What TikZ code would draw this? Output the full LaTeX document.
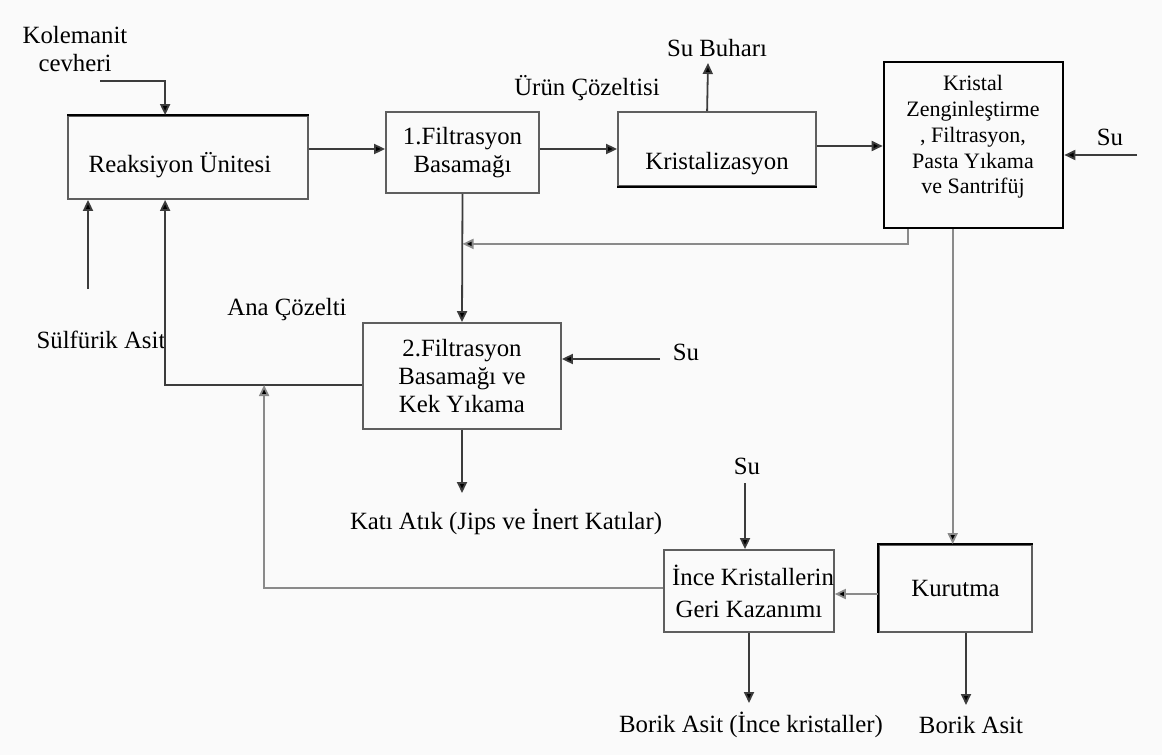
\documentclass[tikz,border=0pt]{standalone}
\usepackage{fontspec}
\setmainfont{Liberation Serif}
\usetikzlibrary{arrows.meta,calc}
\definecolor{bgcol}{HTML}{FAFAFA}
\definecolor{boxgray}{HTML}{5E5E5E}
\definecolor{linegray}{HTML}{3C3C3C}
\definecolor{lightline}{HTML}{8A8A8A}
\begin{document}
\begin{tikzpicture}[x=0.5pt,y=-0.5pt,
  box/.style={draw=boxgray, line width=0.9pt, inner sep=0pt, align=center,
    font=\fontsize{12.4}{14}\selectfont},
  flow/.style={draw=linegray, line width=0.9pt,
    -{Triangle[length=5.5pt,width=5pt,fill=black]}},
  txt/.style={inner sep=0pt, align=center, font=\fontsize{12.4}{14}\selectfont},
  edge/.style={black, line width=1.2pt},
]
\fill[bgcol] (0,0) rectangle (1162,755);
\useasboundingbox (0,0) rectangle (1162,755);

% process units
\node[box, minimum width=120pt, minimum height=41.5pt] (react) at (188,157.5) {};
\draw[edge] (react.north west) -- (react.north east);
\node[txt] (reacttxt) at (180,165) {Reaksiyon Ünitesi};
\node[box, minimum width=76.5pt, minimum height=40.5pt] (f1) at (462.5,152.5)
  {1.Filtrasyon\\Basamağı};
\node[box, minimum width=99pt, minimum height=37pt] (kr) at (717,149) {};
\draw[edge] (kr.south west) -- (kr.south east);
\node[txt] (krtxt) at (717,164) {Kristalizasyon};
\node[box, draw=black, line width=1.3pt, minimum width=89.5pt, minimum height=83pt]
  (kz) at (973.5,145) {};
\node[txt, font=\fontsize{11}{12.9}\selectfont] (kztxt) at (973,137)
  {Kristal\\Zenginleştirme\\, Filtrasyon,\\Pasta Yıkama\\ve Santrifüj};
\node[box, minimum width=99pt, minimum height=53pt] (f2) at (462,376)
  {2.Filtrasyon\\Basamağı ve\\Kek Yıkama};
\node[box, minimum width=82pt, minimum height=41pt,
  font=\fontsize{12.4}{16}\selectfont] (ince) at (749,591)
  {\hspace*{4pt}İnce Kristallerin\\Geri Kazanımı};
\node[box, minimum width=76.5pt, minimum height=43.5pt] (kur) at (955.5,588.5) {Kurutma};
\draw[edge] (kur.south west) -- (kur.north west) -- (kur.north east);

% stream labels
\node[txt] (kol) at (75,49) {Kolemanit\\cevheri};
\node[txt] (sulf) at (101,340) {Sülfürik Asit};
\node[txt] (ana) at (287,310) {Ana Çözelti};
\node[txt] (urun) at (587,88) {Ürün Çözeltisi};
\node[txt] (subuhar) at (717,48) {Su Buharı};
\node[txt] (su1) at (1110,137) {Su};
\node[txt] (su2) at (686,352) {Su};
\node[txt] (su3) at (747,466) {Su};
\node[txt] (katl) at (506,522) {Katı Atık (Jips ve İnert Katılar)};
\node[txt] (bor1) at (751,725) {Borik Asit (İnce kristaller)};
\node[txt] (bor2) at (971,725) {Borik Asit};

% free ends of streams
\coordinate (kolin) at (100,81);
\coordinate (sulfin) at (88,289);
\coordinate (vapout) at (708,63);
\coordinate (su1in) at (1137,155);
\coordinate (su2in) at (660,359);
\coordinate (su3in) at (745,483);
\coordinate (katout) at (462,493);
\coordinate (bor1out) at (749,703);
\coordinate (bor2out) at (966,705);

% feeds
\draw[flow] (kolin) -| ($(react.north west)+(98,0)$);
\draw[flow] (sulfin) -- (sulfin |- react.south);

% main line
\draw[flow] ($(react.east)+(0,-8.5)$) coordinate (a1) -- (a1 -| f1.west);
\draw[flow] ($(f1.east)+(0,-3.5)$) coordinate (a2) -- (a2 -| kr.west);
\draw[flow] ($(kr.north west)+(90,0)$) -- (vapout);
\draw[flow] ($(kr.east)+(0,-3)$) coordinate (a4) -- (a4 -| kz.west);
\draw[flow] (su1in) -- (su1in -| kz.east);

% mother liquor from crystal unit
\draw[flow, draw=lightline] ($(kz.south west)+(25,0)$) |- ($(f1.south)+(0,50)$);
\draw[flow] (f1.south) -- (f2.north);
\draw[flow] (su2in) -- (su2in -| f2.east);
\draw[flow] (f2.south) -- (katout);

% recycle to reactor
\draw[flow] ($(f2.west)+(0,9)$) -| ($(react.south west)+(98,0)$);

% drying and fines recovery
\draw[flow, draw=lightline] ($(kz.south west)+(70,0)$) coordinate (a5) -- (a5 |- kur.north);
\draw[flow, draw=lightline] ($(kur.west)+(0,5.5)$) coordinate (a6) -- (a6 -| ince.east);
\draw[flow] (su3in) -- (su3in |- ince.north);
\draw[flow] (ince.south) -- (bor1out);
\draw[flow] ($(kur.south)+(10.5,0)$) -- (bor2out);
\draw[flow, draw=lightline] ($(ince.west)+(0,-3)$) -| ($(f2.west)+(-98,9)$);
\end{tikzpicture}
\end{document}
